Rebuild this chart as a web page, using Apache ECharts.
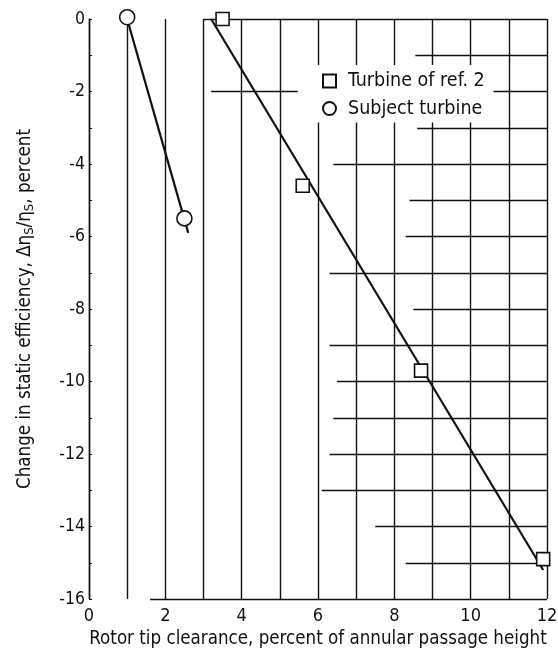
<!DOCTYPE html>
<html><head><meta charset="utf-8">
<script src="https://cdn.jsdelivr.net/npm/echarts@6/dist/echarts.min.js"></script>
<style>html,body{margin:0;padding:0;background:#fff}#c{width:558px;height:652px}</style>
</head><body><div id="c"></div>
<script>
// ---- data ----
const xTickLabels = [0, 2, 4, 6, 8, 10, 12];
const yTickLabels = [0, -2, -4, -6, -8, -10, -12, -14, -16];
const ref2Name = 'Turbine of ref. 2';
const subjName = 'Subject turbine';
const ref2Points = [[3.5, 0], [5.6, -4.6], [8.7, -9.7], [11.9, -14.9]];
const subjPoints = [[1.0, 0.05], [2.5, -5.5]];
const ref2Fit = [[3.2, 0], [11.9, -15.2]];
const subjFit = [[1.0, 0], [2.6, -5.9]];
// partial horizontal grid rules of the original graph paper: [y, xStart, xEnd]
const hRules = [
  [0, 3.0, 12], [-1, 8.55, 12], [-2, 3.2, 5.47], [-2, 10.6, 12], [-3, 8.6, 12],
  [-4, 6.4, 12], [-5, 8.4, 12], [-6, 8.3, 12], [-7, 6.3, 12], [-8, 8.5, 12],
  [-9, 6.3, 12], [-10, 6.5, 12], [-11, 6.4, 12], [-12, 6.3, 12], [-13, 6.1, 12],
  [-14, 7.5, 12], [-15, 8.3, 12], [-16, 1.6, 12]
];

const FONT = "'DejaVu Sans Condensed', 'Roboto Condensed', sans-serif";
const ink = '#111';

const chart = echarts.init(document.getElementById('c'), null, {renderer: 'canvas'});
chart.setOption({
  backgroundColor: '#fff',
  animation: false,
  textStyle: {fontFamily: FONT, color: ink},
  grid: {left: 89, right: 11, top: 19, bottom: 53, containLabel: false, outerBoundsMode: 'none'},
  legend: {
    orient: 'vertical',
    left: 298, top: 65,
    padding: [6, 10, 4, 24],
    backgroundColor: '#fff',
    itemWidth: 13, itemHeight: 13, itemGap: 7.5,
    data: [ref2Name, subjName],
    textStyle: {fontFamily: FONT, fontSize: 19.5, lineHeight: 16, color: ink, padding: [0, 0, 0, 7]}
  },
  xAxis: {
    type: 'value', min: 0, max: 12, interval: 1,
    axisLine: {show: false},
    axisTick: {show: false},
    splitLine: {show: true, lineStyle: {color: ink, width: 1.4}},
    axisLabel: {
      margin: 8, fontSize: 18, color: ink, fontFamily: FONT,
      formatter: v => xTickLabels.includes(v) ? String(v) : ''
    },
    name: 'Rotor tip clearance, percent of annular passage height',
    nameLocation: 'middle', nameGap: 31,
    nameTextStyle: {fontSize: 18.6, color: ink, fontFamily: FONT}
  },
  yAxis: {
    type: 'value', min: -16, max: 0, interval: 1,
    axisLine: {show: true, lineStyle: {color: ink, width: 1.4}},
    axisTick: {show: true, inside: true, length: 3, lineStyle: {color: ink}},
    splitLine: {show: false},
    axisLabel: {
      margin: 4, fontSize: 17.5, color: ink, fontFamily: FONT,
      formatter: v => yTickLabels.includes(v) ? String(v) : ''
    },
    name: '{a|Change in static efficiency, Δη}{s|S}{a|/η}{s|S}{a|, percent}',
    nameLocation: 'middle', nameGap: 53,
    nameTextStyle: {
      color: ink, fontFamily: FONT,
      rich: {
        a: {fontSize: 18.6, lineHeight: 22, fontFamily: FONT, color: ink},
        s: {fontSize: 13, lineHeight: 12, verticalAlign: 'bottom', fontFamily: FONT, color: ink}
      }
    }
  },
  series: [
    {
      type: 'line', name: 'rules', silent: true, data: [], symbol: 'none',
      markLine: {
        silent: true, symbol: 'none', label: {show: false},
        lineStyle: {color: ink, width: 1.3, type: 'solid'},
        emphasis: {disabled: true},
        data: hRules.map(r => [{coord: [r[1], r[0]]}, {coord: [r[2], r[0]]}])
      }
    },
    {
      type: 'line', name: 'ref2fit', data: ref2Fit, symbol: 'none', silent: true, clip: false,
      lineStyle: {color: ink, width: 2.2}, z: 3
    },
    {
      type: 'line', name: 'subjfit', data: subjFit, symbol: 'none', silent: true, clip: false,
      lineStyle: {color: ink, width: 2.2}, z: 3
    },
    {
      type: 'scatter', name: ref2Name, data: ref2Points, symbol: 'rect', symbolSize: 13, clip: false,
      itemStyle: {color: '#fff', borderColor: ink, borderWidth: 1.6, opacity: 1}, z: 5
    },
    {
      type: 'scatter', name: subjName, data: subjPoints, symbol: 'circle', symbolSize: 15, clip: false,
      itemStyle: {color: '#fff', borderColor: ink, borderWidth: 1.6, opacity: 1}, z: 5
    }
  ]
});
</script>
</body></html>
